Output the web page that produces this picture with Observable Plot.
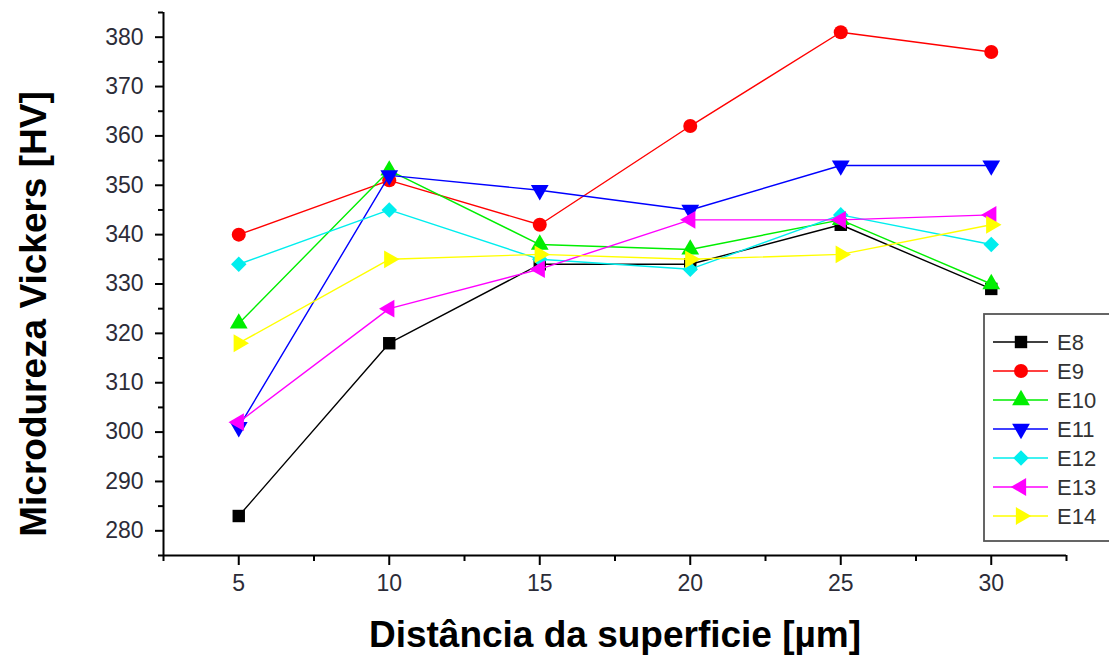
<!DOCTYPE html>
<html><head><meta charset="utf-8">
<script src="https://cdn.jsdelivr.net/npm/d3@7"></script>
<script src="https://cdn.jsdelivr.net/npm/@observablehq/plot@0.6"></script>
<style>
body{margin:0;background:#fff;overflow:hidden}
#chart svg{font-family:Arial,"Liberation Sans",sans-serif}
</style>
</head><body><div id="chart"></div>
<script>
// ---- data ----
const distances = [5, 10, 15, 20, 25, 30];
const seriesNames = ["E8", "E9", "E10", "E11", "E12", "E13", "E14"];
const E8  = [283, 318, 334, 334, 342, 329];
const E9  = [340, 351, 342, 362, 381, 377];
const E10 = [322, 353, 338, 337, 343, 330];
const E11 = [301, 352, 349, 345, 354, 354];
const E12 = [334, 345, 335, 333, 344, 338];
const E13 = [302, 325, 333, 343, 343, 344];
const E14 = [318, 335, 336, 335, 336, 342];
const seriesValues = [E8, E9, E10, E11, E12, E13, E14];
const yTicks = [280, 290, 300, 310, 320, 330, 340, 350, 360, 370, 380];
const yMinor = [275, 285, 295, 305, 315, 325, 335, 345, 355, 365, 375, 385];
const xTicks = [5, 10, 15, 20, 25, 30];
const xMinor = [2.5, 7.5, 12.5, 17.5, 22.5, 27.5, 32.5];
const xTitle = "Distância da superficie [µm]";
const yTitle = "Microdureza Vickers [HV]";

// ---- styles ----
const colors = ["#000000", "#ff0000", "#00ee00", "#0000ff", "#00eeee", "#ff00ff", "#ffff00"];
const symbols = ["square", "circle", "triangle", "triangle", "diamond2", "triangle", "triangle"];
const rotations = [0, 0, 0, 180, 0, -90, 90];
const radii = [7, 7, 6.6, 6.6, 7, 6.6, 6.6];

const rows = seriesNames.map((name, i) => distances.map((d, j) => ({series: name, x: d, y: seriesValues[i][j]})));

const marks = [];
rows.forEach((data, i) => {
  marks.push(Plot.line(data, {x: "x", y: "y", stroke: colors[i], strokeWidth: 1.4}));
  marks.push(Plot.dot(data, {x: "x", y: "y", symbol: symbols[i], fill: colors[i], stroke: "none", r: radii[i], rotate: rotations[i]}));
});

const chart = Plot.plot({
  width: 1109,
  height: 656,
  marginLeft: 163,
  marginRight: 43,
  marginTop: 12,
  marginBottom: 101,
  style: {background: "#fff", fontFamily: "Arial, 'Liberation Sans', sans-serif", fontSize: "23px"},
  x: {domain: [2.5, 32.5], axis: null},
  y: {domain: [275, 385], axis: null},
  marks: [
    ...marks,
    Plot.axisY(yTicks, {tickSize: 8, tickPadding: 12, strokeWidth: 2, fill: "#2c2c38", label: null}),
    Plot.axisY(yMinor, {tickSize: 5, strokeWidth: 2, tickFormat: () => "", label: null}),
    Plot.axisX(xTicks, {tickSize: 10, tickPadding: 9, strokeWidth: 2, fill: "#2c2c38", label: null}),
    Plot.axisX(xMinor, {tickSize: 6, strokeWidth: 2, tickFormat: () => "", label: null}),
    Plot.ruleX([2.5], {stroke: "#000", strokeWidth: 2}),
    Plot.ruleY([275], {stroke: "#000", strokeWidth: 2}),
    Plot.text([xTitle], {frameAnchor: "bottom", dy: 91, fontSize: 37, fontWeight: "bold", fill: "#000"}),
    Plot.text([yTitle], {frameAnchor: "left", textAnchor: "middle", dx: -129, dy: 30, rotate: -90, fontSize: 37, fontWeight: "bold", fill: "#000"})
  ]
});
document.getElementById("chart").appendChild(chart);

// ---- legend ----
const svg = d3.select(chart);
const lg = svg.append("g").attr("class", "legend");
lg.append("rect").attr("x", 984).attr("y", 314).attr("width", 200).attr("height", 227)
  .attr("fill", "#fff").attr("stroke", "#555").attr("stroke-width", 1.8);
seriesNames.forEach((name, i) => {
  const cy = 342 + i * 29;
  lg.append("line").attr("x1", 993).attr("x2", 1048).attr("y1", cy).attr("y2", cy)
    .attr("stroke", colors[i]).attr("stroke-width", 1.4);
  const sym = {square: d3.symbolSquare, circle: d3.symbolCircle, triangle: d3.symbolTriangle, diamond2: d3.symbolDiamond2}[symbols[i]];
  lg.append("path").attr("d", d3.symbol(sym, radii[i] * radii[i] * Math.PI)())
    .attr("transform", `translate(1021,${cy}) rotate(${rotations[i]})`).attr("fill", colors[i]);
  lg.append("text").attr("x", 1057).attr("y", cy).attr("dy", "0.36em").attr("text-anchor", "start")
    .attr("font-size", 22).attr("fill", "#333").text(name);
});
</script>
</body></html>
